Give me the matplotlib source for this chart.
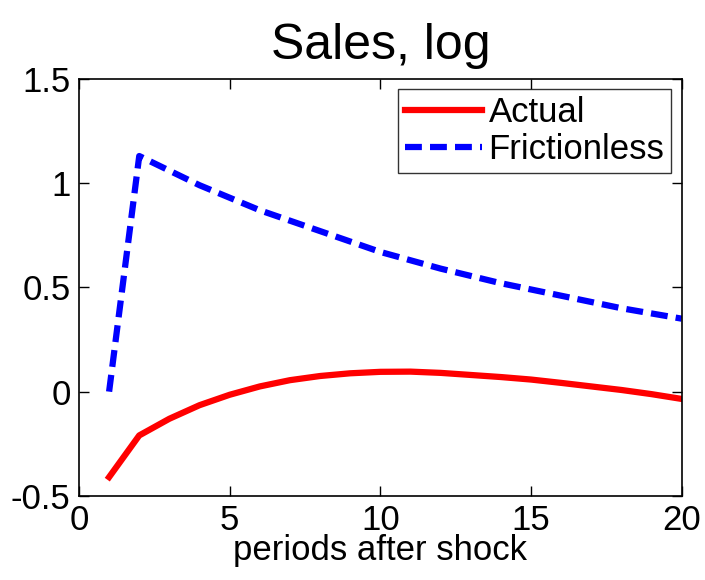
import numpy as np
import matplotlib
matplotlib.use("Agg")
import matplotlib.pyplot as plt

periods = np.arange(1, 21)
actual = [-0.41, -0.21, -0.13, -0.065, -0.015, 0.025, 0.055, 0.075, 0.088, 0.095,
          0.096, 0.09, 0.08, 0.07, 0.058, 0.042, 0.025, 0.008, -0.012, -0.035]
frictionless = [0.0, 1.13, 1.06, 0.99, 0.93, 0.87, 0.82, 0.77, 0.72, 0.67,
                0.63, 0.59, 0.555, 0.52, 0.49, 0.46, 0.43, 0.40, 0.375, 0.35]

plt.rcParams['font.family'] = ['Liberation Sans', 'DejaVu Sans']

fig = plt.figure(figsize=(7.05, 5.8), dpi=100)
ax = fig.add_axes([0.112, 0.145, 0.855, 0.719])

ax.plot(periods, actual, color='#ff0000', lw=4.5, label='Actual')
ax.plot(periods, frictionless, color='#0000ff', lw=4.5, ls=(0, (2.7, 1.3)), label='Frictionless')

ax.set_xlim(0, 20)
ax.set_ylim(-0.5, 1.5)
ax.set_xticks([0, 5, 10, 15, 20])
ax.set_yticks([-0.5, 0, 0.5, 1, 1.5])
ax.set_yticklabels(['-0.5', '0', '0.5', '1', '1.5'])
ax.tick_params(direction='in', length=7, width=1, labelsize=25, top=True, right=True, pad=6)
for s in ax.spines.values():
    s.set_linewidth(1.2)

ax.set_title('Sales, log', fontsize=36, pad=14)
ax.set_xlabel('periods after shock', fontsize=25, labelpad=-2)

leg = ax.legend(loc='upper right', fontsize=25, frameon=True, fancybox=False,
                handlelength=2.2, handletextpad=0.2, borderpad=0.2, labelspacing=0.1,
                borderaxespad=0.3)
leg.get_frame().set_edgecolor('black')
leg.get_frame().set_linewidth(1.0)

plt.savefig("out.png", dpi=100)
